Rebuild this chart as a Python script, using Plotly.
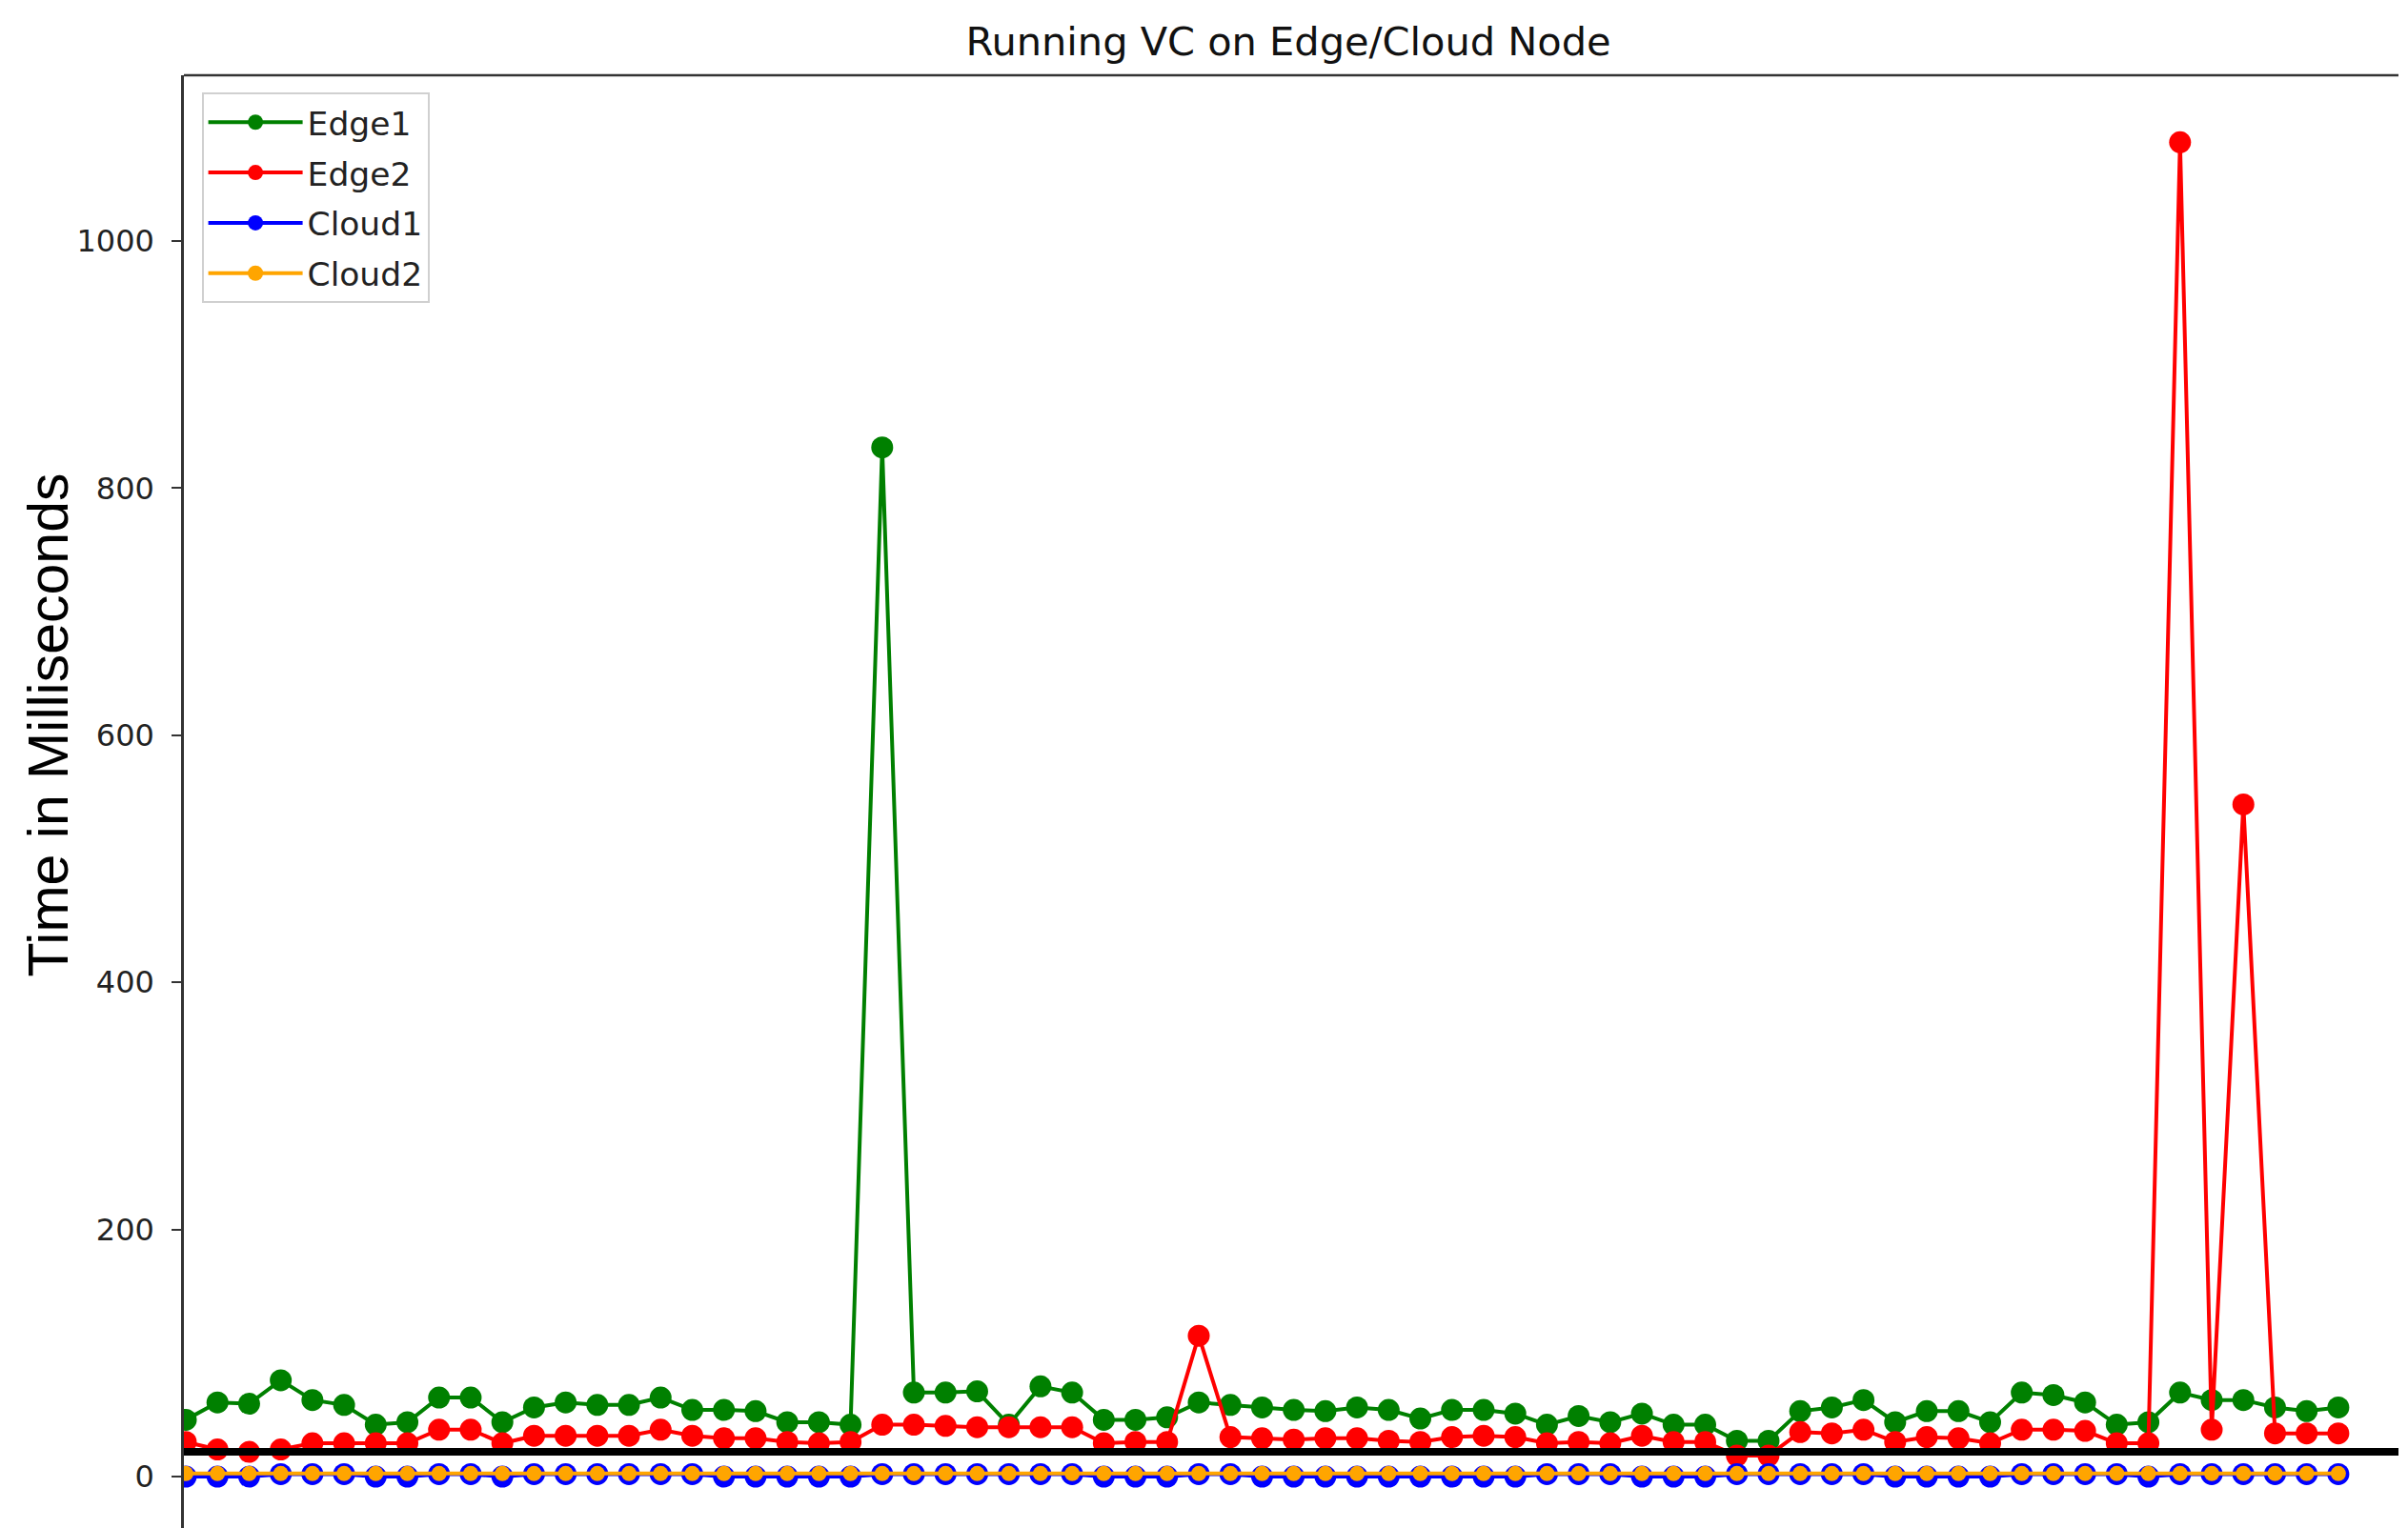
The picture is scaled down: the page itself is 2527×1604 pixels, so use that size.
import plotly.graph_objects as go

# ---- data ----
run_index = list(range(69))

edge1 = [46, 60, 59, 78, 62, 58, 42, 44, 64, 64,
         44, 56, 60, 58, 58, 64, 54, 54, 53, 44,
         44, 42, 833, 68, 68, 69, 42, 73, 68, 46,
         46, 48, 60, 58, 56, 54, 53, 56, 54, 47,
         54, 54, 51, 42, 49, 44, 51, 42, 42, 29,
         29, 53, 56, 62, 44, 53, 53, 44, 68, 66,
         60, 42, 44, 68, 62, 62, 56, 53, 56]

edge2 = [28, 22, 20, 22, 27, 27, 27, 27, 38, 38,
         27, 33, 33, 33, 33, 38, 33, 31, 31, 28,
         27, 28, 42, 42, 41, 40, 40, 40, 40, 27,
         28, 28, 114, 32, 31, 30, 31, 31, 29, 28,
         32, 33, 32, 27, 28, 27, 33, 28, 28, 17,
         17, 36, 35, 38, 28, 32, 31, 27, 38, 38,
         37, 27, 27, 1080, 38, 544, 35, 35, 35]

cloud1 = [0, 0, 0, 2, 2, 2, 0, 0, 2, 2,
          0, 2, 2, 2, 2, 2, 2, 0, 0, 0,
          0, 0, 2, 2, 2, 2, 2, 2, 2, 0,
          0, 0, 2, 2, 0, 0, 0, 0, 0, 0,
          0, 0, 0, 2, 2, 2, 0, 0, 0, 2,
          2, 2, 2, 2, 0, 0, 0, 0, 2, 2,
          2, 2, 0, 2, 2, 2, 2, 2, 2]

cloud2 = [2.5, 2.5, 2.5, 2.5, 2.5, 2.5, 2.5, 2.5, 2.5, 2.5,
          2.5, 2.5, 2.5, 2.5, 2.5, 2.5, 2.5, 2.5, 2.5, 2.5,
          2.5, 2.5, 2.5, 2.5, 2.5, 2.5, 2.5, 2.5, 2.5, 2.5,
          2.5, 2.5, 2.5, 2.5, 2.5, 2.5, 2.5, 2.5, 2.5, 2.5,
          2.5, 2.5, 2.5, 2.5, 2.5, 2.5, 2.5, 2.5, 2.5, 2.5,
          2.5, 2.5, 2.5, 2.5, 2.5, 2.5, 2.5, 2.5, 2.5, 2.5,
          2.5, 2.5, 2.5, 2.5, 2.5, 2.5, 2.5, 2.5, 2.5]

threshold = 20
series_names = ["Edge1", "Edge2", "Cloud1", "Cloud2"]
y_ticks = [0, 200, 400, 600, 800, 1000]

# ---- styling ----
W, H = 2527, 1604
ML, MR, MT, MB = 185, 18, 71, 8   # page body adds an 8px offset
PW, PH = W - ML - MR, H - MT - MB
colors = ["green", "red", "blue", "orange"]
marker_sizes = [23, 23, 23, 16]

fig = go.Figure()
for name, vals, col, ms in zip(series_names, [edge1, edge2, cloud1, cloud2], colors, marker_sizes):
    fig.add_trace(go.Scatter(
        x=run_index, y=vals, name=name, mode="lines+markers",
        line=dict(color=col, width=4),
        marker=dict(color=col, size=ms, line=dict(width=0)),
        legendgroup=name, cliponaxis=True,
    ))

fig.add_hline(y=threshold, line=dict(color="black", width=8), layer="above")

# top spine
fig.add_shape(type="line", xref="paper", yref="paper", x0=0, x1=1, y0=1, y1=1,
              line=dict(color="#333333", width=2.5), layer="above")

# y-axis label (placed as in the reference, above the plot-area centre)
fig.add_annotation(text="Time in Milliseconds", textangle=-90,
                   xref="paper", yref="paper",
                   x=(42 - ML) / PW, xanchor="center",
                   y=(H - MB - 753.5) / PH, yanchor="middle", showarrow=False,
                   font=dict(size=59, family="Liberation Sans", color="black"))

fig.update_layout(
    width=W, height=H,
    margin=dict(l=ML, r=MR, t=MT, b=MB, pad=0, autoexpand=False),
    plot_bgcolor="white", paper_bgcolor="white",
    font=dict(family="DejaVu Sans", color="#222222"),
    title=dict(text="Running VC on Edge/Cloud Node", x=1344 / W, xanchor="center",
               y=1 - 35 / H, yanchor="middle", yref="container",
               font=dict(size=41.5, family="DejaVu Sans", color="#111111")),
    showlegend=True,
    legend=dict(x=0.008, y=0.988, xanchor="left", yanchor="top",
                bgcolor="white", bordercolor="#d0d0d0", borderwidth=2,
                font=dict(size=34.5, family="DejaVu Sans", color="#222222"),
                tracegroupgap=5, itemwidth=99),
    xaxis=dict(range=[-0.06, 69.9], showgrid=False, zeroline=False, showline=False,
               showticklabels=False, ticks="", automargin=False),
    yaxis=dict(range=[-41.6, 1134.2], tickvals=y_ticks, showgrid=False, zeroline=False,
               showline=True, linecolor="#333333", linewidth=2.5,
               ticks="outside", ticklen=10, tickwidth=2, tickcolor="#333333",
               ticklabelstandoff=12, automargin=False,
               tickfont=dict(size=32, family="DejaVu Sans", color="#222222")),
)

fig.write_html("out.html")
